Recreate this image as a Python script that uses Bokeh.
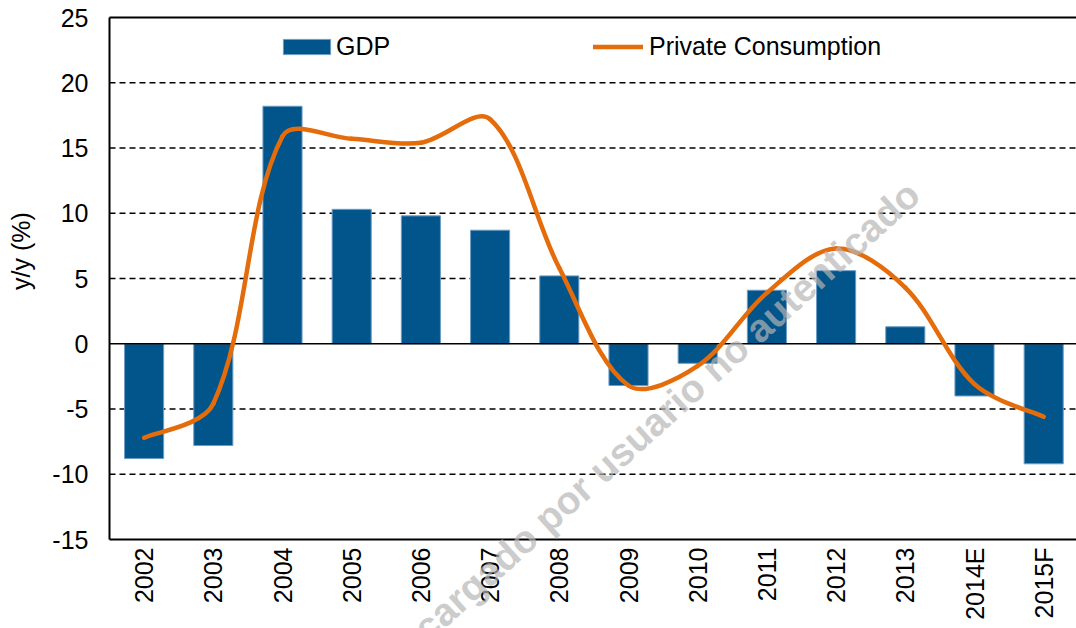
import math
from bokeh.plotting import figure
from bokeh.models import Range1d, FixedTicker, Label, Legend, LegendItem, LinearAxis
from bokeh.embed import file_html
from bokeh.resources import INLINE

# ---- data ----
years = ["2002", "2003", "2004", "2005", "2006", "2007", "2008",
         "2009", "2010", "2011", "2012", "2013", "2014E", "2015F"]
gdp = [-8.8, -7.8, 18.2, 10.3, 9.8, 8.7, 5.2, -3.2, -1.5, 4.1, 5.6, 1.3, -4.0, -9.2]
private_consumption = [-7.2, -4.6, 15.9, 15.7, 15.4, 17.2, 5.8, -3.2, -1.7, 3.9, 7.3, 4.3, -3.1, -5.6]
y_ticks = [-15, -10, -5, 0, 5, 10, 15, 20, 25]
y_tick_labels = ["-15", "-10", "-5", "0", "5", "10", "15", "20", "25"]
grid_ticks = [-10, -5, 5, 10, 15, 20]

BAR = "#02558B"
ORANGE = "#E46C0A"
FONT = "Liberation Sans"
FS = "25px"

W, H = 1076, 628
# plot-area box inside the canvas (pixels)
PL, PT, PB = 109, 17, 539
CAT_PX = 69.2
YMIN, YMAX = -15, 25
XLO = -0.5
sy = (PB - PT) / (YMAX - YMIN)
sx = CAT_PX
# data ranges spanning the whole canvas so the watermark is not clipped
x_start = XLO - PL / sx
x_end = XLO + (W - PL) / sx
y_end = YMAX + PT / sy
y_start = YMIN - (H - PB) / sy
XHI = x_end

p = figure(width=W, height=H, x_range=Range1d(x_start, x_end), y_range=Range1d(y_start, y_end),
           output_backend="svg", toolbar_location=None,
           x_axis_location=None, y_axis_location=None,
           min_border_left=0, min_border_right=0, min_border_top=0, min_border_bottom=0)
p.outline_line_color = None
p.background_fill_color = "white"
p.border_fill_color = "white"
for g in p.grid:
    g.visible = False

idx = list(range(len(years)))

# dashed grid lines inside the plot area
p.segment(x0=[XLO] * len(grid_ticks), y0=grid_ticks, x1=[XHI] * len(grid_ticks), y1=grid_ticks,
          line_color="black", line_width=1.7, line_dash="6 4")

# bars
bars = p.vbar(x=idx, top=gdp, bottom=0, width=0.565, fill_color=BAR,
              line_color="#6C9CC4", line_width=1)

# zero line and top border
p.segment(x0=[XLO], y0=[0], x1=[XHI], y1=[0], line_color="black", line_width=1.5)
p.segment(x0=[XLO], y0=[YMAX], x1=[XHI], y1=[YMAX], line_color="black", line_width=2)

# axes at fixed positions
xaxis = LinearAxis(fixed_location=YMIN, bounds=(XLO, XHI), ticker=FixedTicker(ticks=idx),
                   major_label_overrides={i: y for i, y in enumerate(years)},
                   major_label_orientation=math.pi / 2, major_label_standoff=8)
yaxis = LinearAxis(fixed_location=XLO, bounds=(YMIN, YMAX), ticker=FixedTicker(ticks=y_ticks),
                   major_label_overrides={t: s for t, s in zip(y_ticks, y_tick_labels)},
                   major_label_standoff=21)
for ax in (xaxis, yaxis):
    ax.major_tick_line_color = None
    ax.minor_tick_line_color = None
    ax.major_tick_out = 0
    ax.major_tick_in = 0
    ax.axis_line_color = "black"
    ax.axis_line_width = 2
    ax.major_label_text_font = FONT
    ax.major_label_text_font_size = FS
    ax.major_label_text_color = "black"
p.add_layout(xaxis, "below")
p.add_layout(yaxis, "left")

# smoothed line (Excel-like bezier smoothing computed in screen space)
pts = [(i * sx, v * sy) for i, v in zip(idx, private_consumption)]
n = len(pts)


def dist(a, b):
    return math.hypot(b[0] - a[0], b[1] - a[1])


f = 1.0 / 3.0
x0s, y0s, x1s, y1s, cx0s, cy0s, cx1s, cy1s = [], [], [], [], [], [], [], []
for i in range(n - 1):
    P0, P1 = pts[i], pts[i + 1]
    Pm = pts[i - 1] if i > 0 else None
    Pp = pts[i + 2] if i + 2 < n else None
    d1 = dist(P0, P1)
    if Pm is None:
        a0 = ((P1[0] - P0[0]) / 6.0, (P1[1] - P0[1]) / 6.0)
    else:
        d0 = dist(Pm, P0)
        r = f * d1 / (d0 + d1)
        a0 = ((P1[0] - Pm[0]) * r, (P1[1] - Pm[1]) * r)
    if Pp is None:
        a1 = ((P1[0] - P0[0]) / 6.0, (P1[1] - P0[1]) / 6.0)
    else:
        d2 = dist(P1, Pp)
        r = f * d1 / (d1 + d2)
        a1 = ((Pp[0] - P0[0]) * r, (Pp[1] - P0[1]) * r)
    x0s.append(P0[0] / sx); y0s.append(P0[1] / sy)
    x1s.append(P1[0] / sx); y1s.append(P1[1] / sy)
    cx0s.append((P0[0] + a0[0]) / sx); cy0s.append((P0[1] + a0[1]) / sy)
    cx1s.append((P1[0] - a1[0]) / sx); cy1s.append((P1[1] - a1[1]) / sy)

curve = p.bezier(x0=x0s, y0=y0s, x1=x1s, y1=y1s, cx0=cx0s, cy0=cy0s, cx1=cx1s, cy1=cy1s,
                 line_color=ORANGE, line_width=4.5, line_cap="round")

# legends (two, so each glyph gets its own size)
ROW = 30
leg_y = H - 31.5 - ROW
common = dict(orientation="horizontal", label_text_font=FONT, label_text_font_size=FS,
              label_text_color="black", border_line_color=None, background_fill_alpha=0,
              padding=0, margin=0, label_height=ROW)
p.add_layout(Legend(items=[LegendItem(label="GDP", renderers=[bars])],
                    location=(277, leg_y), glyph_width=59, glyph_height=19,
                    label_standoff=0, **common))
p.add_layout(Legend(items=[LegendItem(label="Private Consumption", renderers=[curve])],
                    location=(593, leg_y), glyph_width=50, glyph_height=15,
                    label_standoff=6, **common))

# y axis title
p.add_layout(Label(x=20, x_units="screen", y=7.1, y_units="data", text="y/y (%)",
                   angle=math.pi / 2, text_align="center", text_baseline="middle",
                   text_font=FONT, text_font_size=FS, text_color="black"))

# watermark
p.add_layout(Label(x=11.12, y=11.9, text="Descargado por usuario no autenticado",
                   angle=math.radians(42), text_align="right", text_baseline="middle",
                   text_font=FONT, text_font_style="bold", text_font_size="39px",
                   text_color="#B5B5B5", text_alpha=0.7))

open("out.html", "w").write(file_html(p, INLINE))
